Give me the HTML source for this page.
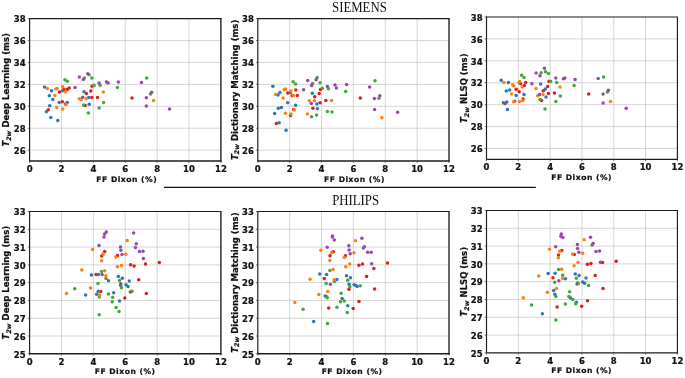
<!DOCTYPE html>
<html><head><meta charset="utf-8"><title>T2w vs FF Dixon</title>
<style>
html,body{margin:0;padding:0;background:#fff}
svg text{font-family:"DejaVu Sans","Liberation Sans",sans-serif;font-weight:bold;font-size:8.5px;fill:#111;stroke:#111;stroke-width:0.22px}
svg text.ttl{font-family:"Liberation Serif","DejaVu Serif",serif;font-weight:normal;font-size:14.3px;fill:#111;stroke:none}
</style></head><body>
<svg width="685" height="378" viewBox="0 0 685 378" style="display:block">
<rect width="685" height="378" fill="#fff"/>
<g><line x1="61.48" y1="18.6" x2="61.48" y2="161.1" stroke="#c6c6c6" stroke-width="0.72"/>
<line x1="93.37" y1="18.6" x2="93.37" y2="161.1" stroke="#c6c6c6" stroke-width="0.72"/>
<line x1="125.25" y1="18.6" x2="125.25" y2="161.1" stroke="#c6c6c6" stroke-width="0.72"/>
<line x1="157.13" y1="18.6" x2="157.13" y2="161.1" stroke="#c6c6c6" stroke-width="0.72"/>
<line x1="189.02" y1="18.6" x2="189.02" y2="161.1" stroke="#c6c6c6" stroke-width="0.72"/>
<line x1="29.6" y1="150.14" x2="220.9" y2="150.14" stroke="#c6c6c6" stroke-width="0.72"/>
<line x1="29.6" y1="128.22" x2="220.9" y2="128.22" stroke="#c6c6c6" stroke-width="0.72"/>
<line x1="29.6" y1="106.29" x2="220.9" y2="106.29" stroke="#c6c6c6" stroke-width="0.72"/>
<line x1="29.6" y1="84.37" x2="220.9" y2="84.37" stroke="#c6c6c6" stroke-width="0.72"/>
<line x1="29.6" y1="62.45" x2="220.9" y2="62.45" stroke="#c6c6c6" stroke-width="0.72"/>
<line x1="29.6" y1="40.52" x2="220.9" y2="40.52" stroke="#c6c6c6" stroke-width="0.72"/>
<circle cx="65.4" cy="103.9" r="1.75" fill="#e21a1c"/>
<circle cx="59.5" cy="92.1" r="1.75" fill="#e21a1c"/>
<circle cx="63.9" cy="89.6" r="1.75" fill="#e21a1c"/>
<circle cx="67.1" cy="89.4" r="1.75" fill="#e21a1c"/>
<circle cx="69.2" cy="88.0" r="1.75" fill="#e21a1c"/>
<circle cx="62.3" cy="101.8" r="1.75" fill="#e21a1c"/>
<circle cx="48.3" cy="109.8" r="1.75" fill="#e21a1c"/>
<circle cx="92.1" cy="86.3" r="1.75" fill="#e21a1c"/>
<circle cx="90.8" cy="91.0" r="1.75" fill="#e21a1c"/>
<circle cx="86.4" cy="93.4" r="1.75" fill="#e21a1c"/>
<circle cx="91.8" cy="97.4" r="1.75" fill="#e21a1c"/>
<circle cx="97.5" cy="97.4" r="1.75" fill="#e21a1c"/>
<circle cx="85.1" cy="105.4" r="1.75" fill="#e21a1c"/>
<circle cx="132.0" cy="98.1" r="1.75" fill="#e21a1c"/>
<circle cx="44.5" cy="86.9" r="1.75" fill="#2a78b8"/>
<circle cx="51.6" cy="90.7" r="1.75" fill="#2a78b8"/>
<circle cx="49.3" cy="95.8" r="1.75" fill="#2a78b8"/>
<circle cx="52.8" cy="99.6" r="1.75" fill="#2a78b8"/>
<circle cx="49.7" cy="105.8" r="1.75" fill="#2a78b8"/>
<circle cx="46.4" cy="111.8" r="1.75" fill="#2a78b8"/>
<circle cx="50.8" cy="117.5" r="1.75" fill="#2a78b8"/>
<circle cx="57.8" cy="120.6" r="1.75" fill="#2a78b8"/>
<circle cx="59.2" cy="102.5" r="1.75" fill="#2a78b8"/>
<circle cx="67.3" cy="102.5" r="1.75" fill="#2a78b8"/>
<circle cx="62.4" cy="90.7" r="1.75" fill="#2a78b8"/>
<circle cx="84.0" cy="91.7" r="1.75" fill="#2a78b8"/>
<circle cx="88.7" cy="97.4" r="1.75" fill="#2a78b8"/>
<circle cx="89.2" cy="104.2" r="1.75" fill="#2a78b8"/>
<circle cx="64.9" cy="79.7" r="1.75" fill="#3fa83a"/>
<circle cx="67.3" cy="81.3" r="1.75" fill="#3fa83a"/>
<circle cx="84.3" cy="78.0" r="1.75" fill="#3fa83a"/>
<circle cx="89.0" cy="74.8" r="1.75" fill="#3fa83a"/>
<circle cx="91.8" cy="78.0" r="1.75" fill="#3fa83a"/>
<circle cx="94.1" cy="85.3" r="1.75" fill="#3fa83a"/>
<circle cx="100.0" cy="85.3" r="1.75" fill="#3fa83a"/>
<circle cx="117.3" cy="87.6" r="1.75" fill="#3fa83a"/>
<circle cx="103.6" cy="102.5" r="1.75" fill="#3fa83a"/>
<circle cx="99.1" cy="107.9" r="1.75" fill="#3fa83a"/>
<circle cx="88.3" cy="112.9" r="1.75" fill="#3fa83a"/>
<circle cx="83.5" cy="105.1" r="1.75" fill="#3fa83a"/>
<circle cx="146.7" cy="78.1" r="1.75" fill="#3fa83a"/>
<circle cx="150.5" cy="94.0" r="1.75" fill="#3fa83a"/>
<circle cx="47.3" cy="88.5" r="1.75" fill="#ff7f0e"/>
<circle cx="55.9" cy="89.0" r="1.75" fill="#ff7f0e"/>
<circle cx="57.2" cy="88.5" r="1.75" fill="#ff7f0e"/>
<circle cx="62.7" cy="86.7" r="1.75" fill="#ff7f0e"/>
<circle cx="65.4" cy="91.8" r="1.75" fill="#ff7f0e"/>
<circle cx="54.9" cy="95.6" r="1.75" fill="#ff7f0e"/>
<circle cx="66.1" cy="104.5" r="1.75" fill="#ff7f0e"/>
<circle cx="56.7" cy="107.5" r="1.75" fill="#ff7f0e"/>
<circle cx="62.7" cy="108.9" r="1.75" fill="#ff7f0e"/>
<circle cx="79.2" cy="98.8" r="1.75" fill="#ff7f0e"/>
<circle cx="81.1" cy="99.4" r="1.75" fill="#ff7f0e"/>
<circle cx="86.2" cy="98.4" r="1.75" fill="#ff7f0e"/>
<circle cx="103.3" cy="92.0" r="1.75" fill="#ff7f0e"/>
<circle cx="153.6" cy="100.6" r="1.75" fill="#ff7f0e"/>
<circle cx="75.1" cy="87.6" r="1.75" fill="#9848ad"/>
<circle cx="79.4" cy="76.9" r="1.75" fill="#9848ad"/>
<circle cx="83.3" cy="79.6" r="1.75" fill="#9848ad"/>
<circle cx="87.8" cy="73.7" r="1.75" fill="#9848ad"/>
<circle cx="99.1" cy="82.9" r="1.75" fill="#9848ad"/>
<circle cx="106.5" cy="82.0" r="1.75" fill="#9848ad"/>
<circle cx="108.1" cy="82.9" r="1.75" fill="#9848ad"/>
<circle cx="118.3" cy="82.0" r="1.75" fill="#9848ad"/>
<circle cx="82.7" cy="97.2" r="1.75" fill="#9848ad"/>
<circle cx="141.5" cy="82.5" r="1.75" fill="#9848ad"/>
<circle cx="151.7" cy="92.3" r="1.75" fill="#9848ad"/>
<circle cx="146.3" cy="97.7" r="1.75" fill="#9848ad"/>
<circle cx="146.3" cy="106.0" r="1.75" fill="#9848ad"/>
<circle cx="169.5" cy="109.0" r="1.75" fill="#9848ad"/>
<path d="M29.6 161.1V18.1" fill="none" stroke="#1c1c1c" stroke-width="1.15"/>
<path d="M29.1 18.6H221.5" fill="none" stroke="#1c1c1c" stroke-width="1.1"/>
<path d="M220.9 18.6V161.79999999999998" fill="none" stroke="#1c1c1c" stroke-width="1.35"/>
<path d="M29.05 161.1H221.55" fill="none" stroke="#1c1c1c" stroke-width="1.5"/>
<line x1="29.60" y1="161.1" x2="29.60" y2="162.9" stroke="#444" stroke-width="0.75"/>
<text x="29.60" y="172.30" text-anchor="middle">0</text>
<line x1="61.48" y1="161.1" x2="61.48" y2="162.9" stroke="#444" stroke-width="0.75"/>
<text x="61.48" y="172.30" text-anchor="middle">2</text>
<line x1="93.37" y1="161.1" x2="93.37" y2="162.9" stroke="#444" stroke-width="0.75"/>
<text x="93.37" y="172.30" text-anchor="middle">4</text>
<line x1="125.25" y1="161.1" x2="125.25" y2="162.9" stroke="#444" stroke-width="0.75"/>
<text x="125.25" y="172.30" text-anchor="middle">6</text>
<line x1="157.13" y1="161.1" x2="157.13" y2="162.9" stroke="#444" stroke-width="0.75"/>
<text x="157.13" y="172.30" text-anchor="middle">8</text>
<line x1="189.02" y1="161.1" x2="189.02" y2="162.9" stroke="#444" stroke-width="0.75"/>
<text x="189.02" y="172.30" text-anchor="middle">10</text>
<line x1="220.90" y1="161.1" x2="220.90" y2="162.9" stroke="#444" stroke-width="0.75"/>
<text x="220.90" y="172.30" text-anchor="middle">12</text>
<line x1="27.8" y1="150.14" x2="29.6" y2="150.14" stroke="#444" stroke-width="0.75"/>
<text x="25.70" y="153.84" text-anchor="end">26</text>
<line x1="27.8" y1="128.22" x2="29.6" y2="128.22" stroke="#444" stroke-width="0.75"/>
<text x="25.70" y="131.92" text-anchor="end">28</text>
<line x1="27.8" y1="106.29" x2="29.6" y2="106.29" stroke="#444" stroke-width="0.75"/>
<text x="25.70" y="109.99" text-anchor="end">30</text>
<line x1="27.8" y1="84.37" x2="29.6" y2="84.37" stroke="#444" stroke-width="0.75"/>
<text x="25.70" y="88.07" text-anchor="end">32</text>
<line x1="27.8" y1="62.45" x2="29.6" y2="62.45" stroke="#444" stroke-width="0.75"/>
<text x="25.70" y="66.15" text-anchor="end">34</text>
<line x1="27.8" y1="40.52" x2="29.6" y2="40.52" stroke="#444" stroke-width="0.75"/>
<text x="25.70" y="44.22" text-anchor="end">36</text>
<line x1="27.8" y1="18.60" x2="29.6" y2="18.60" stroke="#444" stroke-width="0.75"/>
<text x="25.70" y="22.30" text-anchor="end">38</text>
<text x="126.75" y="181.90" text-anchor="middle" style="font-size:7.6px;letter-spacing:0.52px">FF Dixon (%)</text>
<text transform="translate(9.30,89.85) rotate(-90)" text-anchor="middle"><tspan style="font-style:italic;font-weight:bold">T</tspan><tspan style="font-size:6.3px;font-style:italic;font-weight:bold" dy="1.9">2w</tspan><tspan dy="-1.9"> Deep Learning (ms)</tspan></text></g>
<g><line x1="289.67" y1="18.6" x2="289.67" y2="161.1" stroke="#c6c6c6" stroke-width="0.72"/>
<line x1="321.53" y1="18.6" x2="321.53" y2="161.1" stroke="#c6c6c6" stroke-width="0.72"/>
<line x1="353.40" y1="18.6" x2="353.40" y2="161.1" stroke="#c6c6c6" stroke-width="0.72"/>
<line x1="385.27" y1="18.6" x2="385.27" y2="161.1" stroke="#c6c6c6" stroke-width="0.72"/>
<line x1="417.13" y1="18.6" x2="417.13" y2="161.1" stroke="#c6c6c6" stroke-width="0.72"/>
<line x1="257.8" y1="150.14" x2="449.0" y2="150.14" stroke="#c6c6c6" stroke-width="0.72"/>
<line x1="257.8" y1="128.22" x2="449.0" y2="128.22" stroke="#c6c6c6" stroke-width="0.72"/>
<line x1="257.8" y1="106.29" x2="449.0" y2="106.29" stroke="#c6c6c6" stroke-width="0.72"/>
<line x1="257.8" y1="84.37" x2="449.0" y2="84.37" stroke="#c6c6c6" stroke-width="0.72"/>
<line x1="257.8" y1="62.45" x2="449.0" y2="62.45" stroke="#c6c6c6" stroke-width="0.72"/>
<line x1="257.8" y1="40.52" x2="449.0" y2="40.52" stroke="#c6c6c6" stroke-width="0.72"/>
<circle cx="293.6" cy="109.5" r="1.75" fill="#e21a1c"/>
<circle cx="295.8" cy="90.0" r="1.75" fill="#e21a1c"/>
<circle cx="287.8" cy="93.0" r="1.75" fill="#e21a1c"/>
<circle cx="292.2" cy="95.8" r="1.75" fill="#e21a1c"/>
<circle cx="297.3" cy="95.4" r="1.75" fill="#e21a1c"/>
<circle cx="290.6" cy="115.4" r="1.75" fill="#e21a1c"/>
<circle cx="276.4" cy="123.4" r="1.75" fill="#e21a1c"/>
<circle cx="320.5" cy="89.4" r="1.75" fill="#e21a1c"/>
<circle cx="319.2" cy="93.5" r="1.75" fill="#e21a1c"/>
<circle cx="314.7" cy="96.8" r="1.75" fill="#e21a1c"/>
<circle cx="320.1" cy="102.8" r="1.75" fill="#e21a1c"/>
<circle cx="325.9" cy="100.5" r="1.75" fill="#e21a1c"/>
<circle cx="312.9" cy="108.2" r="1.75" fill="#e21a1c"/>
<circle cx="360.3" cy="97.9" r="1.75" fill="#e21a1c"/>
<circle cx="272.9" cy="86.2" r="1.75" fill="#2a78b8"/>
<circle cx="279.9" cy="92.6" r="1.75" fill="#2a78b8"/>
<circle cx="278.0" cy="95.1" r="1.75" fill="#2a78b8"/>
<circle cx="290.4" cy="92.7" r="1.75" fill="#2a78b8"/>
<circle cx="287.7" cy="102.8" r="1.75" fill="#2a78b8"/>
<circle cx="295.6" cy="105.3" r="1.75" fill="#2a78b8"/>
<circle cx="281.4" cy="107.5" r="1.75" fill="#2a78b8"/>
<circle cx="278.3" cy="108.2" r="1.75" fill="#2a78b8"/>
<circle cx="274.7" cy="113.6" r="1.75" fill="#2a78b8"/>
<circle cx="279.2" cy="122.8" r="1.75" fill="#2a78b8"/>
<circle cx="312.3" cy="93.2" r="1.75" fill="#2a78b8"/>
<circle cx="316.9" cy="104.1" r="1.75" fill="#2a78b8"/>
<circle cx="317.4" cy="108.8" r="1.75" fill="#2a78b8"/>
<circle cx="286.1" cy="130.2" r="1.75" fill="#2a78b8"/>
<circle cx="293.1" cy="81.8" r="1.75" fill="#3fa83a"/>
<circle cx="295.6" cy="84.1" r="1.75" fill="#3fa83a"/>
<circle cx="312.6" cy="83.4" r="1.75" fill="#3fa83a"/>
<circle cx="317.1" cy="77.6" r="1.75" fill="#3fa83a"/>
<circle cx="320.1" cy="82.7" r="1.75" fill="#3fa83a"/>
<circle cx="322.3" cy="88.2" r="1.75" fill="#3fa83a"/>
<circle cx="328.4" cy="88.8" r="1.75" fill="#3fa83a"/>
<circle cx="345.6" cy="91.4" r="1.75" fill="#3fa83a"/>
<circle cx="327.4" cy="111.4" r="1.75" fill="#3fa83a"/>
<circle cx="332.0" cy="111.9" r="1.75" fill="#3fa83a"/>
<circle cx="316.6" cy="115.1" r="1.75" fill="#3fa83a"/>
<circle cx="311.5" cy="116.7" r="1.75" fill="#3fa83a"/>
<circle cx="375.0" cy="80.8" r="1.75" fill="#3fa83a"/>
<circle cx="378.9" cy="98.3" r="1.75" fill="#3fa83a"/>
<circle cx="275.6" cy="94.5" r="1.75" fill="#ff7f0e"/>
<circle cx="284.2" cy="89.7" r="1.75" fill="#ff7f0e"/>
<circle cx="285.5" cy="89.1" r="1.75" fill="#ff7f0e"/>
<circle cx="290.9" cy="91.0" r="1.75" fill="#ff7f0e"/>
<circle cx="293.4" cy="95.4" r="1.75" fill="#ff7f0e"/>
<circle cx="283.1" cy="98.1" r="1.75" fill="#ff7f0e"/>
<circle cx="294.4" cy="110.0" r="1.75" fill="#ff7f0e"/>
<circle cx="285.3" cy="113.3" r="1.75" fill="#ff7f0e"/>
<circle cx="291.0" cy="113.9" r="1.75" fill="#ff7f0e"/>
<circle cx="309.3" cy="100.8" r="1.75" fill="#ff7f0e"/>
<circle cx="314.4" cy="100.8" r="1.75" fill="#ff7f0e"/>
<circle cx="307.5" cy="113.9" r="1.75" fill="#ff7f0e"/>
<circle cx="331.6" cy="100.5" r="1.75" fill="#ff7f0e"/>
<circle cx="381.9" cy="117.7" r="1.75" fill="#ff7f0e"/>
<circle cx="303.6" cy="89.7" r="1.75" fill="#9848ad"/>
<circle cx="307.7" cy="80.6" r="1.75" fill="#9848ad"/>
<circle cx="311.6" cy="85.6" r="1.75" fill="#9848ad"/>
<circle cx="316.1" cy="79.8" r="1.75" fill="#9848ad"/>
<circle cx="327.4" cy="86.6" r="1.75" fill="#9848ad"/>
<circle cx="335.0" cy="84.9" r="1.75" fill="#9848ad"/>
<circle cx="336.4" cy="87.9" r="1.75" fill="#9848ad"/>
<circle cx="346.6" cy="84.4" r="1.75" fill="#9848ad"/>
<circle cx="311.3" cy="103.5" r="1.75" fill="#9848ad"/>
<circle cx="369.6" cy="87.0" r="1.75" fill="#9848ad"/>
<circle cx="379.8" cy="95.8" r="1.75" fill="#9848ad"/>
<circle cx="374.4" cy="98.4" r="1.75" fill="#9848ad"/>
<circle cx="374.6" cy="109.4" r="1.75" fill="#9848ad"/>
<circle cx="397.6" cy="112.3" r="1.75" fill="#9848ad"/>
<path d="M257.8 161.1V18.1" fill="none" stroke="#1c1c1c" stroke-width="1.15"/>
<path d="M257.3 18.6H449.6" fill="none" stroke="#1c1c1c" stroke-width="1.1"/>
<path d="M449.0 18.6V161.79999999999998" fill="none" stroke="#1c1c1c" stroke-width="1.35"/>
<path d="M257.25 161.1H449.65" fill="none" stroke="#1c1c1c" stroke-width="1.5"/>
<line x1="257.80" y1="161.1" x2="257.80" y2="162.9" stroke="#444" stroke-width="0.75"/>
<text x="257.80" y="172.30" text-anchor="middle">0</text>
<line x1="289.67" y1="161.1" x2="289.67" y2="162.9" stroke="#444" stroke-width="0.75"/>
<text x="289.67" y="172.30" text-anchor="middle">2</text>
<line x1="321.53" y1="161.1" x2="321.53" y2="162.9" stroke="#444" stroke-width="0.75"/>
<text x="321.53" y="172.30" text-anchor="middle">4</text>
<line x1="353.40" y1="161.1" x2="353.40" y2="162.9" stroke="#444" stroke-width="0.75"/>
<text x="353.40" y="172.30" text-anchor="middle">6</text>
<line x1="385.27" y1="161.1" x2="385.27" y2="162.9" stroke="#444" stroke-width="0.75"/>
<text x="385.27" y="172.30" text-anchor="middle">8</text>
<line x1="417.13" y1="161.1" x2="417.13" y2="162.9" stroke="#444" stroke-width="0.75"/>
<text x="417.13" y="172.30" text-anchor="middle">10</text>
<line x1="449.00" y1="161.1" x2="449.00" y2="162.9" stroke="#444" stroke-width="0.75"/>
<text x="449.00" y="172.30" text-anchor="middle">12</text>
<line x1="256.0" y1="150.14" x2="257.8" y2="150.14" stroke="#444" stroke-width="0.75"/>
<text x="253.90" y="153.84" text-anchor="end">26</text>
<line x1="256.0" y1="128.22" x2="257.8" y2="128.22" stroke="#444" stroke-width="0.75"/>
<text x="253.90" y="131.92" text-anchor="end">28</text>
<line x1="256.0" y1="106.29" x2="257.8" y2="106.29" stroke="#444" stroke-width="0.75"/>
<text x="253.90" y="109.99" text-anchor="end">30</text>
<line x1="256.0" y1="84.37" x2="257.8" y2="84.37" stroke="#444" stroke-width="0.75"/>
<text x="253.90" y="88.07" text-anchor="end">32</text>
<line x1="256.0" y1="62.45" x2="257.8" y2="62.45" stroke="#444" stroke-width="0.75"/>
<text x="253.90" y="66.15" text-anchor="end">34</text>
<line x1="256.0" y1="40.52" x2="257.8" y2="40.52" stroke="#444" stroke-width="0.75"/>
<text x="253.90" y="44.22" text-anchor="end">36</text>
<line x1="256.0" y1="18.60" x2="257.8" y2="18.60" stroke="#444" stroke-width="0.75"/>
<text x="253.90" y="22.30" text-anchor="end">38</text>
<text x="354.50" y="182.30" text-anchor="middle" style="font-size:7.6px;letter-spacing:0.52px">FF Dixon (%)</text>
<text transform="translate(237.50,89.85) rotate(-90)" text-anchor="middle"><tspan style="font-style:italic;font-weight:bold">T</tspan><tspan style="font-size:6.3px;font-style:italic;font-weight:bold" dy="1.9">2w</tspan><tspan dy="-1.9"> Dictionary Matching (ms)</tspan></text></g>
<g><line x1="518.32" y1="17.0" x2="518.32" y2="159.4" stroke="#c6c6c6" stroke-width="0.72"/>
<line x1="550.13" y1="17.0" x2="550.13" y2="159.4" stroke="#c6c6c6" stroke-width="0.72"/>
<line x1="581.95" y1="17.0" x2="581.95" y2="159.4" stroke="#c6c6c6" stroke-width="0.72"/>
<line x1="613.77" y1="17.0" x2="613.77" y2="159.4" stroke="#c6c6c6" stroke-width="0.72"/>
<line x1="645.58" y1="17.0" x2="645.58" y2="159.4" stroke="#c6c6c6" stroke-width="0.72"/>
<line x1="486.5" y1="148.45" x2="677.4" y2="148.45" stroke="#c6c6c6" stroke-width="0.72"/>
<line x1="486.5" y1="126.54" x2="677.4" y2="126.54" stroke="#c6c6c6" stroke-width="0.72"/>
<line x1="486.5" y1="104.63" x2="677.4" y2="104.63" stroke="#c6c6c6" stroke-width="0.72"/>
<line x1="486.5" y1="82.72" x2="677.4" y2="82.72" stroke="#c6c6c6" stroke-width="0.72"/>
<line x1="486.5" y1="60.82" x2="677.4" y2="60.82" stroke="#c6c6c6" stroke-width="0.72"/>
<line x1="486.5" y1="38.91" x2="677.4" y2="38.91" stroke="#c6c6c6" stroke-width="0.72"/>
<circle cx="505.0" cy="103.5" r="1.75" fill="#e21a1c"/>
<circle cx="523.1" cy="99.0" r="1.75" fill="#e21a1c"/>
<circle cx="516.2" cy="89.2" r="1.75" fill="#e21a1c"/>
<circle cx="520.6" cy="83.8" r="1.75" fill="#e21a1c"/>
<circle cx="524.3" cy="85.6" r="1.75" fill="#e21a1c"/>
<circle cx="525.7" cy="82.4" r="1.75" fill="#e21a1c"/>
<circle cx="519.2" cy="91.8" r="1.75" fill="#e21a1c"/>
<circle cx="549.0" cy="81.2" r="1.75" fill="#e21a1c"/>
<circle cx="547.6" cy="86.4" r="1.75" fill="#e21a1c"/>
<circle cx="543.3" cy="90.8" r="1.75" fill="#e21a1c"/>
<circle cx="548.5" cy="93.4" r="1.75" fill="#e21a1c"/>
<circle cx="554.4" cy="92.9" r="1.75" fill="#e21a1c"/>
<circle cx="541.5" cy="100.5" r="1.75" fill="#e21a1c"/>
<circle cx="588.7" cy="94.0" r="1.75" fill="#e21a1c"/>
<circle cx="501.2" cy="80.2" r="1.75" fill="#2a78b8"/>
<circle cx="508.4" cy="82.6" r="1.75" fill="#2a78b8"/>
<circle cx="509.7" cy="89.9" r="1.75" fill="#2a78b8"/>
<circle cx="506.3" cy="91.0" r="1.75" fill="#2a78b8"/>
<circle cx="516.1" cy="95.5" r="1.75" fill="#2a78b8"/>
<circle cx="524.0" cy="94.6" r="1.75" fill="#2a78b8"/>
<circle cx="514.5" cy="101.2" r="1.75" fill="#2a78b8"/>
<circle cx="506.8" cy="101.9" r="1.75" fill="#2a78b8"/>
<circle cx="503.4" cy="102.8" r="1.75" fill="#2a78b8"/>
<circle cx="507.5" cy="109.4" r="1.75" fill="#2a78b8"/>
<circle cx="540.6" cy="84.1" r="1.75" fill="#2a78b8"/>
<circle cx="545.3" cy="88.9" r="1.75" fill="#2a78b8"/>
<circle cx="546.0" cy="96.9" r="1.75" fill="#2a78b8"/>
<circle cx="519.3" cy="82.4" r="1.75" fill="#2a78b8"/>
<circle cx="521.6" cy="75.3" r="1.75" fill="#3fa83a"/>
<circle cx="524.0" cy="77.5" r="1.75" fill="#3fa83a"/>
<circle cx="541.1" cy="72.7" r="1.75" fill="#3fa83a"/>
<circle cx="545.5" cy="71.7" r="1.75" fill="#3fa83a"/>
<circle cx="548.5" cy="73.6" r="1.75" fill="#3fa83a"/>
<circle cx="550.7" cy="81.6" r="1.75" fill="#3fa83a"/>
<circle cx="556.7" cy="82.6" r="1.75" fill="#3fa83a"/>
<circle cx="574.1" cy="85.6" r="1.75" fill="#3fa83a"/>
<circle cx="560.3" cy="95.9" r="1.75" fill="#3fa83a"/>
<circle cx="555.8" cy="101.6" r="1.75" fill="#3fa83a"/>
<circle cx="545.0" cy="109.1" r="1.75" fill="#3fa83a"/>
<circle cx="540.0" cy="99.4" r="1.75" fill="#3fa83a"/>
<circle cx="603.6" cy="76.9" r="1.75" fill="#3fa83a"/>
<circle cx="607.4" cy="92.0" r="1.75" fill="#3fa83a"/>
<circle cx="503.8" cy="82.6" r="1.75" fill="#ff7f0e"/>
<circle cx="512.6" cy="84.8" r="1.75" fill="#ff7f0e"/>
<circle cx="513.6" cy="86.0" r="1.75" fill="#ff7f0e"/>
<circle cx="519.6" cy="81.5" r="1.75" fill="#ff7f0e"/>
<circle cx="522.2" cy="87.0" r="1.75" fill="#ff7f0e"/>
<circle cx="511.6" cy="93.9" r="1.75" fill="#ff7f0e"/>
<circle cx="522.8" cy="100.5" r="1.75" fill="#ff7f0e"/>
<circle cx="513.6" cy="101.8" r="1.75" fill="#ff7f0e"/>
<circle cx="519.5" cy="101.6" r="1.75" fill="#ff7f0e"/>
<circle cx="536.0" cy="88.5" r="1.75" fill="#ff7f0e"/>
<circle cx="537.6" cy="95.8" r="1.75" fill="#ff7f0e"/>
<circle cx="543.0" cy="94.6" r="1.75" fill="#ff7f0e"/>
<circle cx="560.0" cy="86.9" r="1.75" fill="#ff7f0e"/>
<circle cx="610.5" cy="101.6" r="1.75" fill="#ff7f0e"/>
<circle cx="531.9" cy="83.7" r="1.75" fill="#9848ad"/>
<circle cx="536.1" cy="72.9" r="1.75" fill="#9848ad"/>
<circle cx="540.0" cy="75.8" r="1.75" fill="#9848ad"/>
<circle cx="544.4" cy="68.3" r="1.75" fill="#9848ad"/>
<circle cx="555.8" cy="78.1" r="1.75" fill="#9848ad"/>
<circle cx="563.4" cy="78.7" r="1.75" fill="#9848ad"/>
<circle cx="564.9" cy="78.1" r="1.75" fill="#9848ad"/>
<circle cx="575.1" cy="79.6" r="1.75" fill="#9848ad"/>
<circle cx="539.6" cy="94.6" r="1.75" fill="#9848ad"/>
<circle cx="598.2" cy="78.5" r="1.75" fill="#9848ad"/>
<circle cx="608.4" cy="90.2" r="1.75" fill="#9848ad"/>
<circle cx="603.1" cy="93.9" r="1.75" fill="#9848ad"/>
<circle cx="603.1" cy="102.9" r="1.75" fill="#9848ad"/>
<circle cx="626.2" cy="108.2" r="1.75" fill="#9848ad"/>
<path d="M486.5 159.4V16.5" fill="none" stroke="#1c1c1c" stroke-width="1.15"/>
<path d="M486.0 17.0H678.0" fill="none" stroke="#1c1c1c" stroke-width="1.2"/>
<path d="M677.4 17.0V160.1" fill="none" stroke="#1c1c1c" stroke-width="1.15"/>
<path d="M485.95 159.4H678.05" fill="none" stroke="#1c1c1c" stroke-width="1.3"/>
<line x1="486.50" y1="159.4" x2="486.50" y2="161.20000000000002" stroke="#444" stroke-width="0.75"/>
<text x="486.50" y="169.70" text-anchor="middle">0</text>
<line x1="518.32" y1="159.4" x2="518.32" y2="161.20000000000002" stroke="#444" stroke-width="0.75"/>
<text x="518.32" y="169.70" text-anchor="middle">2</text>
<line x1="550.13" y1="159.4" x2="550.13" y2="161.20000000000002" stroke="#444" stroke-width="0.75"/>
<text x="550.13" y="169.70" text-anchor="middle">4</text>
<line x1="581.95" y1="159.4" x2="581.95" y2="161.20000000000002" stroke="#444" stroke-width="0.75"/>
<text x="581.95" y="169.70" text-anchor="middle">6</text>
<line x1="613.77" y1="159.4" x2="613.77" y2="161.20000000000002" stroke="#444" stroke-width="0.75"/>
<text x="613.77" y="169.70" text-anchor="middle">8</text>
<line x1="645.58" y1="159.4" x2="645.58" y2="161.20000000000002" stroke="#444" stroke-width="0.75"/>
<text x="645.58" y="169.70" text-anchor="middle">10</text>
<line x1="677.40" y1="159.4" x2="677.40" y2="161.20000000000002" stroke="#444" stroke-width="0.75"/>
<text x="677.40" y="169.70" text-anchor="middle">12</text>
<line x1="484.7" y1="148.45" x2="486.5" y2="148.45" stroke="#444" stroke-width="0.75"/>
<text x="482.60" y="152.15" text-anchor="end">26</text>
<line x1="484.7" y1="126.54" x2="486.5" y2="126.54" stroke="#444" stroke-width="0.75"/>
<text x="482.60" y="130.24" text-anchor="end">28</text>
<line x1="484.7" y1="104.63" x2="486.5" y2="104.63" stroke="#444" stroke-width="0.75"/>
<text x="482.60" y="108.33" text-anchor="end">30</text>
<line x1="484.7" y1="82.72" x2="486.5" y2="82.72" stroke="#444" stroke-width="0.75"/>
<text x="482.60" y="86.42" text-anchor="end">32</text>
<line x1="484.7" y1="60.82" x2="486.5" y2="60.82" stroke="#444" stroke-width="0.75"/>
<text x="482.60" y="64.52" text-anchor="end">34</text>
<line x1="484.7" y1="38.91" x2="486.5" y2="38.91" stroke="#444" stroke-width="0.75"/>
<text x="482.60" y="42.61" text-anchor="end">36</text>
<line x1="484.7" y1="17.00" x2="486.5" y2="17.00" stroke="#444" stroke-width="0.75"/>
<text x="482.60" y="20.70" text-anchor="end">38</text>
<text x="581.65" y="180.30" text-anchor="middle" style="font-size:7.6px;letter-spacing:0.52px">FF Dixon (%)</text>
<text transform="translate(467.20,88.20) rotate(-90)" text-anchor="middle"><tspan style="font-style:italic;font-weight:bold">T</tspan><tspan style="font-size:6.3px;font-style:italic;font-weight:bold" dy="1.9">2w</tspan><tspan dy="-1.9"> NLSQ (ms)</tspan></text></g>
<g><line x1="61.48" y1="211.5" x2="61.48" y2="353.8" stroke="#c6c6c6" stroke-width="0.72"/>
<line x1="93.37" y1="211.5" x2="93.37" y2="353.8" stroke="#c6c6c6" stroke-width="0.72"/>
<line x1="125.25" y1="211.5" x2="125.25" y2="353.8" stroke="#c6c6c6" stroke-width="0.72"/>
<line x1="157.13" y1="211.5" x2="157.13" y2="353.8" stroke="#c6c6c6" stroke-width="0.72"/>
<line x1="189.02" y1="211.5" x2="189.02" y2="353.8" stroke="#c6c6c6" stroke-width="0.72"/>
<line x1="29.6" y1="336.01" x2="220.9" y2="336.01" stroke="#c6c6c6" stroke-width="0.72"/>
<line x1="29.6" y1="318.23" x2="220.9" y2="318.23" stroke="#c6c6c6" stroke-width="0.72"/>
<line x1="29.6" y1="300.44" x2="220.9" y2="300.44" stroke="#c6c6c6" stroke-width="0.72"/>
<line x1="29.6" y1="282.65" x2="220.9" y2="282.65" stroke="#c6c6c6" stroke-width="0.72"/>
<line x1="29.6" y1="264.86" x2="220.9" y2="264.86" stroke="#c6c6c6" stroke-width="0.72"/>
<line x1="29.6" y1="247.07" x2="220.9" y2="247.07" stroke="#c6c6c6" stroke-width="0.72"/>
<line x1="29.6" y1="229.29" x2="220.9" y2="229.29" stroke="#c6c6c6" stroke-width="0.72"/>
<circle cx="104.7" cy="251.6" r="1.75" fill="#e21a1c"/>
<circle cx="101.7" cy="256.0" r="1.75" fill="#e21a1c"/>
<circle cx="117.4" cy="255.6" r="1.75" fill="#e21a1c"/>
<circle cx="130.6" cy="264.8" r="1.75" fill="#e21a1c"/>
<circle cx="134.1" cy="266.1" r="1.75" fill="#e21a1c"/>
<circle cx="145.5" cy="263.9" r="1.75" fill="#e21a1c"/>
<circle cx="159.3" cy="262.6" r="1.75" fill="#e21a1c"/>
<circle cx="96.1" cy="274.4" r="1.75" fill="#e21a1c"/>
<circle cx="100.7" cy="291.6" r="1.75" fill="#e21a1c"/>
<circle cx="120.7" cy="283.9" r="1.75" fill="#e21a1c"/>
<circle cx="130.4" cy="291.9" r="1.75" fill="#e21a1c"/>
<circle cx="138.7" cy="279.8" r="1.75" fill="#e21a1c"/>
<circle cx="124.8" cy="298.1" r="1.75" fill="#e21a1c"/>
<circle cx="146.3" cy="293.4" r="1.75" fill="#e21a1c"/>
<circle cx="91.4" cy="275.0" r="1.75" fill="#2a78b8"/>
<circle cx="98.4" cy="274.5" r="1.75" fill="#2a78b8"/>
<circle cx="108.5" cy="280.8" r="1.75" fill="#2a78b8"/>
<circle cx="98.2" cy="291.3" r="1.75" fill="#2a78b8"/>
<circle cx="96.7" cy="294.3" r="1.75" fill="#2a78b8"/>
<circle cx="85.6" cy="295.1" r="1.75" fill="#2a78b8"/>
<circle cx="113.7" cy="292.7" r="1.75" fill="#2a78b8"/>
<circle cx="118.3" cy="276.4" r="1.75" fill="#2a78b8"/>
<circle cx="122.3" cy="278.2" r="1.75" fill="#2a78b8"/>
<circle cx="129.3" cy="281.1" r="1.75" fill="#2a78b8"/>
<circle cx="120.7" cy="285.6" r="1.75" fill="#2a78b8"/>
<circle cx="126.0" cy="284.7" r="1.75" fill="#2a78b8"/>
<circle cx="128.0" cy="286.4" r="1.75" fill="#2a78b8"/>
<circle cx="119.5" cy="301.1" r="1.75" fill="#2a78b8"/>
<circle cx="101.6" cy="271.6" r="1.75" fill="#3fa83a"/>
<circle cx="106.0" cy="278.6" r="1.75" fill="#3fa83a"/>
<circle cx="98.0" cy="283.5" r="1.75" fill="#3fa83a"/>
<circle cx="99.3" cy="297.1" r="1.75" fill="#3fa83a"/>
<circle cx="108.5" cy="294.1" r="1.75" fill="#3fa83a"/>
<circle cx="112.7" cy="297.3" r="1.75" fill="#3fa83a"/>
<circle cx="119.5" cy="280.6" r="1.75" fill="#3fa83a"/>
<circle cx="121.5" cy="287.7" r="1.75" fill="#3fa83a"/>
<circle cx="132.0" cy="291.2" r="1.75" fill="#3fa83a"/>
<circle cx="74.7" cy="288.7" r="1.75" fill="#3fa83a"/>
<circle cx="112.2" cy="301.7" r="1.75" fill="#3fa83a"/>
<circle cx="116.1" cy="307.4" r="1.75" fill="#3fa83a"/>
<circle cx="119.0" cy="311.4" r="1.75" fill="#3fa83a"/>
<circle cx="99.2" cy="314.7" r="1.75" fill="#3fa83a"/>
<circle cx="127.2" cy="240.4" r="1.75" fill="#ff7f0e"/>
<circle cx="92.6" cy="249.6" r="1.75" fill="#ff7f0e"/>
<circle cx="103.1" cy="254.1" r="1.75" fill="#ff7f0e"/>
<circle cx="101.5" cy="260.8" r="1.75" fill="#ff7f0e"/>
<circle cx="115.8" cy="256.9" r="1.75" fill="#ff7f0e"/>
<circle cx="125.8" cy="254.2" r="1.75" fill="#ff7f0e"/>
<circle cx="117.4" cy="266.8" r="1.75" fill="#ff7f0e"/>
<circle cx="121.4" cy="265.5" r="1.75" fill="#ff7f0e"/>
<circle cx="81.8" cy="270.0" r="1.75" fill="#ff7f0e"/>
<circle cx="104.7" cy="270.8" r="1.75" fill="#ff7f0e"/>
<circle cx="105.9" cy="275.8" r="1.75" fill="#ff7f0e"/>
<circle cx="90.5" cy="288.0" r="1.75" fill="#ff7f0e"/>
<circle cx="99.5" cy="294.9" r="1.75" fill="#ff7f0e"/>
<circle cx="66.5" cy="293.6" r="1.75" fill="#ff7f0e"/>
<circle cx="106.3" cy="231.9" r="1.75" fill="#9848ad"/>
<circle cx="104.6" cy="234.0" r="1.75" fill="#9848ad"/>
<circle cx="104.0" cy="236.9" r="1.75" fill="#9848ad"/>
<circle cx="99.0" cy="245.5" r="1.75" fill="#9848ad"/>
<circle cx="133.6" cy="233.1" r="1.75" fill="#9848ad"/>
<circle cx="136.3" cy="243.7" r="1.75" fill="#9848ad"/>
<circle cx="135.4" cy="247.5" r="1.75" fill="#9848ad"/>
<circle cx="120.5" cy="247.1" r="1.75" fill="#9848ad"/>
<circle cx="120.9" cy="250.3" r="1.75" fill="#9848ad"/>
<circle cx="122.0" cy="254.5" r="1.75" fill="#9848ad"/>
<circle cx="139.5" cy="251.5" r="1.75" fill="#9848ad"/>
<circle cx="143.0" cy="251.2" r="1.75" fill="#9848ad"/>
<circle cx="143.4" cy="258.6" r="1.75" fill="#9848ad"/>
<circle cx="102.1" cy="274.5" r="1.75" fill="#9848ad"/>
<path d="M29.6 353.8V211.0" fill="none" stroke="#1c1c1c" stroke-width="1.15"/>
<path d="M29.1 211.5H221.5" fill="none" stroke="#1c1c1c" stroke-width="1.1"/>
<path d="M220.9 211.5V354.5" fill="none" stroke="#1c1c1c" stroke-width="1.35"/>
<path d="M29.05 353.8H221.55" fill="none" stroke="#1c1c1c" stroke-width="1.5"/>
<line x1="29.60" y1="353.8" x2="29.60" y2="355.6" stroke="#444" stroke-width="0.75"/>
<text x="29.60" y="364.70" text-anchor="middle">0</text>
<line x1="61.48" y1="353.8" x2="61.48" y2="355.6" stroke="#444" stroke-width="0.75"/>
<text x="61.48" y="364.70" text-anchor="middle">2</text>
<line x1="93.37" y1="353.8" x2="93.37" y2="355.6" stroke="#444" stroke-width="0.75"/>
<text x="93.37" y="364.70" text-anchor="middle">4</text>
<line x1="125.25" y1="353.8" x2="125.25" y2="355.6" stroke="#444" stroke-width="0.75"/>
<text x="125.25" y="364.70" text-anchor="middle">6</text>
<line x1="157.13" y1="353.8" x2="157.13" y2="355.6" stroke="#444" stroke-width="0.75"/>
<text x="157.13" y="364.70" text-anchor="middle">8</text>
<line x1="189.02" y1="353.8" x2="189.02" y2="355.6" stroke="#444" stroke-width="0.75"/>
<text x="189.02" y="364.70" text-anchor="middle">10</text>
<line x1="220.90" y1="353.8" x2="220.90" y2="355.6" stroke="#444" stroke-width="0.75"/>
<text x="220.90" y="364.70" text-anchor="middle">12</text>
<line x1="27.8" y1="353.80" x2="29.6" y2="353.80" stroke="#444" stroke-width="0.75"/>
<text x="25.70" y="357.50" text-anchor="end">25</text>
<line x1="27.8" y1="336.01" x2="29.6" y2="336.01" stroke="#444" stroke-width="0.75"/>
<text x="25.70" y="339.71" text-anchor="end">26</text>
<line x1="27.8" y1="318.23" x2="29.6" y2="318.23" stroke="#444" stroke-width="0.75"/>
<text x="25.70" y="321.93" text-anchor="end">27</text>
<line x1="27.8" y1="300.44" x2="29.6" y2="300.44" stroke="#444" stroke-width="0.75"/>
<text x="25.70" y="304.14" text-anchor="end">28</text>
<line x1="27.8" y1="282.65" x2="29.6" y2="282.65" stroke="#444" stroke-width="0.75"/>
<text x="25.70" y="286.35" text-anchor="end">29</text>
<line x1="27.8" y1="264.86" x2="29.6" y2="264.86" stroke="#444" stroke-width="0.75"/>
<text x="25.70" y="268.56" text-anchor="end">30</text>
<line x1="27.8" y1="247.07" x2="29.6" y2="247.07" stroke="#444" stroke-width="0.75"/>
<text x="25.70" y="250.77" text-anchor="end">31</text>
<line x1="27.8" y1="229.29" x2="29.6" y2="229.29" stroke="#444" stroke-width="0.75"/>
<text x="25.70" y="232.99" text-anchor="end">32</text>
<line x1="27.8" y1="211.50" x2="29.6" y2="211.50" stroke="#444" stroke-width="0.75"/>
<text x="25.70" y="215.20" text-anchor="end">33</text>
<text x="125.15" y="373.70" text-anchor="middle" style="font-size:7.6px;letter-spacing:0.52px">FF Dixon (%)</text>
<text transform="translate(9.30,282.65) rotate(-90)" text-anchor="middle"><tspan style="font-style:italic;font-weight:bold">T</tspan><tspan style="font-size:6.3px;font-style:italic;font-weight:bold" dy="1.9">2w</tspan><tspan dy="-1.9"> Deep Learning (ms)</tspan></text></g>
<g><line x1="289.67" y1="211.5" x2="289.67" y2="353.8" stroke="#c6c6c6" stroke-width="0.72"/>
<line x1="321.53" y1="211.5" x2="321.53" y2="353.8" stroke="#c6c6c6" stroke-width="0.72"/>
<line x1="353.40" y1="211.5" x2="353.40" y2="353.8" stroke="#c6c6c6" stroke-width="0.72"/>
<line x1="385.27" y1="211.5" x2="385.27" y2="353.8" stroke="#c6c6c6" stroke-width="0.72"/>
<line x1="417.13" y1="211.5" x2="417.13" y2="353.8" stroke="#c6c6c6" stroke-width="0.72"/>
<line x1="257.8" y1="336.01" x2="449.0" y2="336.01" stroke="#c6c6c6" stroke-width="0.72"/>
<line x1="257.8" y1="318.23" x2="449.0" y2="318.23" stroke="#c6c6c6" stroke-width="0.72"/>
<line x1="257.8" y1="300.44" x2="449.0" y2="300.44" stroke="#c6c6c6" stroke-width="0.72"/>
<line x1="257.8" y1="282.65" x2="449.0" y2="282.65" stroke="#c6c6c6" stroke-width="0.72"/>
<line x1="257.8" y1="264.86" x2="449.0" y2="264.86" stroke="#c6c6c6" stroke-width="0.72"/>
<line x1="257.8" y1="247.07" x2="449.0" y2="247.07" stroke="#c6c6c6" stroke-width="0.72"/>
<line x1="257.8" y1="229.29" x2="449.0" y2="229.29" stroke="#c6c6c6" stroke-width="0.72"/>
<circle cx="333.3" cy="251.8" r="1.75" fill="#e21a1c"/>
<circle cx="330.0" cy="255.7" r="1.75" fill="#e21a1c"/>
<circle cx="345.4" cy="255.7" r="1.75" fill="#e21a1c"/>
<circle cx="358.9" cy="265.2" r="1.75" fill="#e21a1c"/>
<circle cx="362.5" cy="264.0" r="1.75" fill="#e21a1c"/>
<circle cx="373.8" cy="268.4" r="1.75" fill="#e21a1c"/>
<circle cx="387.5" cy="262.9" r="1.75" fill="#e21a1c"/>
<circle cx="324.3" cy="278.6" r="1.75" fill="#e21a1c"/>
<circle cx="349.0" cy="289.3" r="1.75" fill="#e21a1c"/>
<circle cx="366.6" cy="276.5" r="1.75" fill="#e21a1c"/>
<circle cx="328.7" cy="307.9" r="1.75" fill="#e21a1c"/>
<circle cx="353.2" cy="308.5" r="1.75" fill="#e21a1c"/>
<circle cx="359.0" cy="301.4" r="1.75" fill="#e21a1c"/>
<circle cx="374.6" cy="289.0" r="1.75" fill="#e21a1c"/>
<circle cx="319.7" cy="274.1" r="1.75" fill="#2a78b8"/>
<circle cx="326.6" cy="274.6" r="1.75" fill="#2a78b8"/>
<circle cx="336.9" cy="279.6" r="1.75" fill="#2a78b8"/>
<circle cx="346.5" cy="275.8" r="1.75" fill="#2a78b8"/>
<circle cx="350.5" cy="277.7" r="1.75" fill="#2a78b8"/>
<circle cx="349.1" cy="284.3" r="1.75" fill="#2a78b8"/>
<circle cx="354.1" cy="284.7" r="1.75" fill="#2a78b8"/>
<circle cx="356.0" cy="285.5" r="1.75" fill="#2a78b8"/>
<circle cx="357.2" cy="286.4" r="1.75" fill="#2a78b8"/>
<circle cx="325.1" cy="296.1" r="1.75" fill="#2a78b8"/>
<circle cx="326.2" cy="296.6" r="1.75" fill="#2a78b8"/>
<circle cx="342.1" cy="298.5" r="1.75" fill="#2a78b8"/>
<circle cx="347.7" cy="305.7" r="1.75" fill="#2a78b8"/>
<circle cx="313.6" cy="321.6" r="1.75" fill="#2a78b8"/>
<circle cx="329.9" cy="270.4" r="1.75" fill="#3fa83a"/>
<circle cx="334.3" cy="281.4" r="1.75" fill="#3fa83a"/>
<circle cx="326.2" cy="283.5" r="1.75" fill="#3fa83a"/>
<circle cx="347.7" cy="280.2" r="1.75" fill="#3fa83a"/>
<circle cx="349.8" cy="286.7" r="1.75" fill="#3fa83a"/>
<circle cx="360.2" cy="285.7" r="1.75" fill="#3fa83a"/>
<circle cx="327.3" cy="297.7" r="1.75" fill="#3fa83a"/>
<circle cx="341.1" cy="293.3" r="1.75" fill="#3fa83a"/>
<circle cx="340.4" cy="301.7" r="1.75" fill="#3fa83a"/>
<circle cx="344.3" cy="301.1" r="1.75" fill="#3fa83a"/>
<circle cx="336.9" cy="307.2" r="1.75" fill="#3fa83a"/>
<circle cx="347.3" cy="312.5" r="1.75" fill="#3fa83a"/>
<circle cx="303.1" cy="309.2" r="1.75" fill="#3fa83a"/>
<circle cx="327.5" cy="323.6" r="1.75" fill="#3fa83a"/>
<circle cx="355.5" cy="240.7" r="1.75" fill="#ff7f0e"/>
<circle cx="320.9" cy="250.2" r="1.75" fill="#ff7f0e"/>
<circle cx="331.4" cy="252.5" r="1.75" fill="#ff7f0e"/>
<circle cx="329.8" cy="260.4" r="1.75" fill="#ff7f0e"/>
<circle cx="344.3" cy="257.6" r="1.75" fill="#ff7f0e"/>
<circle cx="354.0" cy="252.8" r="1.75" fill="#ff7f0e"/>
<circle cx="345.7" cy="266.7" r="1.75" fill="#ff7f0e"/>
<circle cx="349.7" cy="263.9" r="1.75" fill="#ff7f0e"/>
<circle cx="333.1" cy="269.6" r="1.75" fill="#ff7f0e"/>
<circle cx="334.1" cy="279.8" r="1.75" fill="#ff7f0e"/>
<circle cx="327.7" cy="291.6" r="1.75" fill="#ff7f0e"/>
<circle cx="318.8" cy="294.6" r="1.75" fill="#ff7f0e"/>
<circle cx="294.8" cy="302.5" r="1.75" fill="#ff7f0e"/>
<circle cx="310.1" cy="279.2" r="1.75" fill="#ff7f0e"/>
<circle cx="332.6" cy="236.1" r="1.75" fill="#9848ad"/>
<circle cx="334.3" cy="239.9" r="1.75" fill="#9848ad"/>
<circle cx="327.2" cy="247.2" r="1.75" fill="#9848ad"/>
<circle cx="361.9" cy="238.3" r="1.75" fill="#9848ad"/>
<circle cx="364.4" cy="246.8" r="1.75" fill="#9848ad"/>
<circle cx="363.4" cy="248.0" r="1.75" fill="#9848ad"/>
<circle cx="348.8" cy="245.8" r="1.75" fill="#9848ad"/>
<circle cx="349.1" cy="250.0" r="1.75" fill="#9848ad"/>
<circle cx="350.2" cy="253.7" r="1.75" fill="#9848ad"/>
<circle cx="367.6" cy="252.3" r="1.75" fill="#9848ad"/>
<circle cx="371.1" cy="252.3" r="1.75" fill="#9848ad"/>
<circle cx="371.7" cy="263.7" r="1.75" fill="#9848ad"/>
<circle cx="332.3" cy="237.1" r="1.75" fill="#9848ad"/>
<circle cx="330.4" cy="284.3" r="1.75" fill="#9848ad"/>
<path d="M257.8 353.8V211.0" fill="none" stroke="#1c1c1c" stroke-width="1.15"/>
<path d="M257.3 211.5H449.6" fill="none" stroke="#1c1c1c" stroke-width="1.1"/>
<path d="M449.0 211.5V354.5" fill="none" stroke="#1c1c1c" stroke-width="1.35"/>
<path d="M257.25 353.8H449.65" fill="none" stroke="#1c1c1c" stroke-width="1.5"/>
<line x1="257.80" y1="353.8" x2="257.80" y2="355.6" stroke="#444" stroke-width="0.75"/>
<text x="257.80" y="364.70" text-anchor="middle">0</text>
<line x1="289.67" y1="353.8" x2="289.67" y2="355.6" stroke="#444" stroke-width="0.75"/>
<text x="289.67" y="364.70" text-anchor="middle">2</text>
<line x1="321.53" y1="353.8" x2="321.53" y2="355.6" stroke="#444" stroke-width="0.75"/>
<text x="321.53" y="364.70" text-anchor="middle">4</text>
<line x1="353.40" y1="353.8" x2="353.40" y2="355.6" stroke="#444" stroke-width="0.75"/>
<text x="353.40" y="364.70" text-anchor="middle">6</text>
<line x1="385.27" y1="353.8" x2="385.27" y2="355.6" stroke="#444" stroke-width="0.75"/>
<text x="385.27" y="364.70" text-anchor="middle">8</text>
<line x1="417.13" y1="353.8" x2="417.13" y2="355.6" stroke="#444" stroke-width="0.75"/>
<text x="417.13" y="364.70" text-anchor="middle">10</text>
<line x1="449.00" y1="353.8" x2="449.00" y2="355.6" stroke="#444" stroke-width="0.75"/>
<text x="449.00" y="364.70" text-anchor="middle">12</text>
<line x1="256.0" y1="353.80" x2="257.8" y2="353.80" stroke="#444" stroke-width="0.75"/>
<text x="253.90" y="357.50" text-anchor="end">25</text>
<line x1="256.0" y1="336.01" x2="257.8" y2="336.01" stroke="#444" stroke-width="0.75"/>
<text x="253.90" y="339.71" text-anchor="end">26</text>
<line x1="256.0" y1="318.23" x2="257.8" y2="318.23" stroke="#444" stroke-width="0.75"/>
<text x="253.90" y="321.93" text-anchor="end">27</text>
<line x1="256.0" y1="300.44" x2="257.8" y2="300.44" stroke="#444" stroke-width="0.75"/>
<text x="253.90" y="304.14" text-anchor="end">28</text>
<line x1="256.0" y1="282.65" x2="257.8" y2="282.65" stroke="#444" stroke-width="0.75"/>
<text x="253.90" y="286.35" text-anchor="end">29</text>
<line x1="256.0" y1="264.86" x2="257.8" y2="264.86" stroke="#444" stroke-width="0.75"/>
<text x="253.90" y="268.56" text-anchor="end">30</text>
<line x1="256.0" y1="247.07" x2="257.8" y2="247.07" stroke="#444" stroke-width="0.75"/>
<text x="253.90" y="250.77" text-anchor="end">31</text>
<line x1="256.0" y1="229.29" x2="257.8" y2="229.29" stroke="#444" stroke-width="0.75"/>
<text x="253.90" y="232.99" text-anchor="end">32</text>
<line x1="256.0" y1="211.50" x2="257.8" y2="211.50" stroke="#444" stroke-width="0.75"/>
<text x="253.90" y="215.20" text-anchor="end">33</text>
<text x="352.10" y="373.70" text-anchor="middle" style="font-size:7.6px;letter-spacing:0.52px">FF Dixon (%)</text>
<text transform="translate(237.50,282.65) rotate(-90)" text-anchor="middle"><tspan style="font-style:italic;font-weight:bold">T</tspan><tspan style="font-size:6.3px;font-style:italic;font-weight:bold" dy="1.9">2w</tspan><tspan dy="-1.9"> Dictionary Matching (ms)</tspan></text></g>
<g><line x1="518.32" y1="210.5" x2="518.32" y2="352.9" stroke="#c6c6c6" stroke-width="0.72"/>
<line x1="550.13" y1="210.5" x2="550.13" y2="352.9" stroke="#c6c6c6" stroke-width="0.72"/>
<line x1="581.95" y1="210.5" x2="581.95" y2="352.9" stroke="#c6c6c6" stroke-width="0.72"/>
<line x1="613.77" y1="210.5" x2="613.77" y2="352.9" stroke="#c6c6c6" stroke-width="0.72"/>
<line x1="645.58" y1="210.5" x2="645.58" y2="352.9" stroke="#c6c6c6" stroke-width="0.72"/>
<line x1="486.5" y1="335.10" x2="677.4" y2="335.10" stroke="#c6c6c6" stroke-width="0.72"/>
<line x1="486.5" y1="317.30" x2="677.4" y2="317.30" stroke="#c6c6c6" stroke-width="0.72"/>
<line x1="486.5" y1="299.50" x2="677.4" y2="299.50" stroke="#c6c6c6" stroke-width="0.72"/>
<line x1="486.5" y1="281.70" x2="677.4" y2="281.70" stroke="#c6c6c6" stroke-width="0.72"/>
<line x1="486.5" y1="263.90" x2="677.4" y2="263.90" stroke="#c6c6c6" stroke-width="0.72"/>
<line x1="486.5" y1="246.10" x2="677.4" y2="246.10" stroke="#c6c6c6" stroke-width="0.72"/>
<line x1="486.5" y1="228.30" x2="677.4" y2="228.30" stroke="#c6c6c6" stroke-width="0.72"/>
<circle cx="561.7" cy="250.6" r="1.75" fill="#e21a1c"/>
<circle cx="558.5" cy="254.9" r="1.75" fill="#e21a1c"/>
<circle cx="574.3" cy="254.6" r="1.75" fill="#e21a1c"/>
<circle cx="587.4" cy="264.2" r="1.75" fill="#e21a1c"/>
<circle cx="590.9" cy="263.5" r="1.75" fill="#e21a1c"/>
<circle cx="602.5" cy="262.6" r="1.75" fill="#e21a1c"/>
<circle cx="616.2" cy="261.3" r="1.75" fill="#e21a1c"/>
<circle cx="553.0" cy="277.8" r="1.75" fill="#e21a1c"/>
<circle cx="595.2" cy="275.5" r="1.75" fill="#e21a1c"/>
<circle cx="577.1" cy="284.0" r="1.75" fill="#e21a1c"/>
<circle cx="557.1" cy="306.9" r="1.75" fill="#e21a1c"/>
<circle cx="581.6" cy="306.3" r="1.75" fill="#e21a1c"/>
<circle cx="587.5" cy="300.7" r="1.75" fill="#e21a1c"/>
<circle cx="603.0" cy="288.5" r="1.75" fill="#e21a1c"/>
<circle cx="548.1" cy="273.4" r="1.75" fill="#2a78b8"/>
<circle cx="555.1" cy="273.3" r="1.75" fill="#2a78b8"/>
<circle cx="565.5" cy="278.8" r="1.75" fill="#2a78b8"/>
<circle cx="575.2" cy="274.1" r="1.75" fill="#2a78b8"/>
<circle cx="579.0" cy="275.6" r="1.75" fill="#2a78b8"/>
<circle cx="586.0" cy="278.0" r="1.75" fill="#2a78b8"/>
<circle cx="577.6" cy="282.9" r="1.75" fill="#2a78b8"/>
<circle cx="582.7" cy="281.9" r="1.75" fill="#2a78b8"/>
<circle cx="584.6" cy="283.3" r="1.75" fill="#2a78b8"/>
<circle cx="553.6" cy="290.5" r="1.75" fill="#2a78b8"/>
<circle cx="554.9" cy="294.2" r="1.75" fill="#2a78b8"/>
<circle cx="570.5" cy="298.1" r="1.75" fill="#2a78b8"/>
<circle cx="576.4" cy="302.3" r="1.75" fill="#2a78b8"/>
<circle cx="542.4" cy="313.7" r="1.75" fill="#2a78b8"/>
<circle cx="558.5" cy="269.6" r="1.75" fill="#3fa83a"/>
<circle cx="562.7" cy="275.3" r="1.75" fill="#3fa83a"/>
<circle cx="554.7" cy="282.3" r="1.75" fill="#3fa83a"/>
<circle cx="576.3" cy="278.2" r="1.75" fill="#3fa83a"/>
<circle cx="578.3" cy="283.5" r="1.75" fill="#3fa83a"/>
<circle cx="588.6" cy="285.5" r="1.75" fill="#3fa83a"/>
<circle cx="555.9" cy="296.5" r="1.75" fill="#3fa83a"/>
<circle cx="569.6" cy="291.8" r="1.75" fill="#3fa83a"/>
<circle cx="568.8" cy="296.6" r="1.75" fill="#3fa83a"/>
<circle cx="572.8" cy="299.5" r="1.75" fill="#3fa83a"/>
<circle cx="575.7" cy="303.7" r="1.75" fill="#3fa83a"/>
<circle cx="565.4" cy="304.1" r="1.75" fill="#3fa83a"/>
<circle cx="531.5" cy="305.0" r="1.75" fill="#3fa83a"/>
<circle cx="555.9" cy="320.1" r="1.75" fill="#3fa83a"/>
<circle cx="584.1" cy="239.8" r="1.75" fill="#ff7f0e"/>
<circle cx="549.5" cy="249.2" r="1.75" fill="#ff7f0e"/>
<circle cx="559.8" cy="251.3" r="1.75" fill="#ff7f0e"/>
<circle cx="558.4" cy="257.8" r="1.75" fill="#ff7f0e"/>
<circle cx="572.5" cy="254.1" r="1.75" fill="#ff7f0e"/>
<circle cx="582.6" cy="253.2" r="1.75" fill="#ff7f0e"/>
<circle cx="574.1" cy="265.8" r="1.75" fill="#ff7f0e"/>
<circle cx="578.1" cy="262.6" r="1.75" fill="#ff7f0e"/>
<circle cx="561.5" cy="269.2" r="1.75" fill="#ff7f0e"/>
<circle cx="562.6" cy="278.4" r="1.75" fill="#ff7f0e"/>
<circle cx="556.3" cy="288.4" r="1.75" fill="#ff7f0e"/>
<circle cx="547.4" cy="292.2" r="1.75" fill="#ff7f0e"/>
<circle cx="523.3" cy="297.7" r="1.75" fill="#ff7f0e"/>
<circle cx="538.7" cy="275.9" r="1.75" fill="#ff7f0e"/>
<circle cx="561.3" cy="234.1" r="1.75" fill="#9848ad"/>
<circle cx="560.9" cy="236.2" r="1.75" fill="#9848ad"/>
<circle cx="562.9" cy="237.6" r="1.75" fill="#9848ad"/>
<circle cx="555.7" cy="246.7" r="1.75" fill="#9848ad"/>
<circle cx="590.5" cy="237.2" r="1.75" fill="#9848ad"/>
<circle cx="593.1" cy="243.5" r="1.75" fill="#9848ad"/>
<circle cx="592.1" cy="245.1" r="1.75" fill="#9848ad"/>
<circle cx="577.4" cy="244.5" r="1.75" fill="#9848ad"/>
<circle cx="577.6" cy="248.6" r="1.75" fill="#9848ad"/>
<circle cx="578.8" cy="252.2" r="1.75" fill="#9848ad"/>
<circle cx="596.0" cy="251.6" r="1.75" fill="#9848ad"/>
<circle cx="599.5" cy="250.9" r="1.75" fill="#9848ad"/>
<circle cx="600.4" cy="262.2" r="1.75" fill="#9848ad"/>
<circle cx="558.9" cy="280.7" r="1.75" fill="#9848ad"/>
<path d="M486.5 352.9V210.0" fill="none" stroke="#1c1c1c" stroke-width="1.15"/>
<path d="M486.0 210.5H678.0" fill="none" stroke="#1c1c1c" stroke-width="1.2"/>
<path d="M677.4 210.5V353.59999999999997" fill="none" stroke="#1c1c1c" stroke-width="1.15"/>
<path d="M485.95 352.9H678.05" fill="none" stroke="#1c1c1c" stroke-width="1.3"/>
<line x1="486.50" y1="352.9" x2="486.50" y2="354.7" stroke="#444" stroke-width="0.75"/>
<text x="486.50" y="363.50" text-anchor="middle">0</text>
<line x1="518.32" y1="352.9" x2="518.32" y2="354.7" stroke="#444" stroke-width="0.75"/>
<text x="518.32" y="363.50" text-anchor="middle">2</text>
<line x1="550.13" y1="352.9" x2="550.13" y2="354.7" stroke="#444" stroke-width="0.75"/>
<text x="550.13" y="363.50" text-anchor="middle">4</text>
<line x1="581.95" y1="352.9" x2="581.95" y2="354.7" stroke="#444" stroke-width="0.75"/>
<text x="581.95" y="363.50" text-anchor="middle">6</text>
<line x1="613.77" y1="352.9" x2="613.77" y2="354.7" stroke="#444" stroke-width="0.75"/>
<text x="613.77" y="363.50" text-anchor="middle">8</text>
<line x1="645.58" y1="352.9" x2="645.58" y2="354.7" stroke="#444" stroke-width="0.75"/>
<text x="645.58" y="363.50" text-anchor="middle">10</text>
<line x1="677.40" y1="352.9" x2="677.40" y2="354.7" stroke="#444" stroke-width="0.75"/>
<text x="677.40" y="363.50" text-anchor="middle">12</text>
<line x1="484.7" y1="352.90" x2="486.5" y2="352.90" stroke="#444" stroke-width="0.75"/>
<text x="482.60" y="356.60" text-anchor="end">25</text>
<line x1="484.7" y1="335.10" x2="486.5" y2="335.10" stroke="#444" stroke-width="0.75"/>
<text x="482.60" y="338.80" text-anchor="end">26</text>
<line x1="484.7" y1="317.30" x2="486.5" y2="317.30" stroke="#444" stroke-width="0.75"/>
<text x="482.60" y="321.00" text-anchor="end">27</text>
<line x1="484.7" y1="299.50" x2="486.5" y2="299.50" stroke="#444" stroke-width="0.75"/>
<text x="482.60" y="303.20" text-anchor="end">28</text>
<line x1="484.7" y1="281.70" x2="486.5" y2="281.70" stroke="#444" stroke-width="0.75"/>
<text x="482.60" y="285.40" text-anchor="end">29</text>
<line x1="484.7" y1="263.90" x2="486.5" y2="263.90" stroke="#444" stroke-width="0.75"/>
<text x="482.60" y="267.60" text-anchor="end">30</text>
<line x1="484.7" y1="246.10" x2="486.5" y2="246.10" stroke="#444" stroke-width="0.75"/>
<text x="482.60" y="249.80" text-anchor="end">31</text>
<line x1="484.7" y1="228.30" x2="486.5" y2="228.30" stroke="#444" stroke-width="0.75"/>
<text x="482.60" y="232.00" text-anchor="end">32</text>
<line x1="484.7" y1="210.50" x2="486.5" y2="210.50" stroke="#444" stroke-width="0.75"/>
<text x="482.60" y="214.20" text-anchor="end">33</text>
<text x="581.65" y="372.80" text-anchor="middle" style="font-size:7.6px;letter-spacing:0.52px">FF Dixon (%)</text>
<text transform="translate(467.20,281.70) rotate(-90)" text-anchor="middle"><tspan style="font-style:italic;font-weight:bold">T</tspan><tspan style="font-size:6.3px;font-style:italic;font-weight:bold" dy="1.9">2w</tspan><tspan dy="-1.9"> NLSQ (ms)</tspan></text></g>
<line x1="164" y1="187.4" x2="535.8" y2="187.4" stroke="#111" stroke-width="1.1"/>
<text class="ttl" transform="translate(359.4,12.1) scale(0.895,1)" text-anchor="middle">SIEMENS</text>
<text class="ttl" transform="translate(355.6,204.5) scale(0.895,1)" text-anchor="middle">PHILIPS</text>
</svg>
</body></html>
